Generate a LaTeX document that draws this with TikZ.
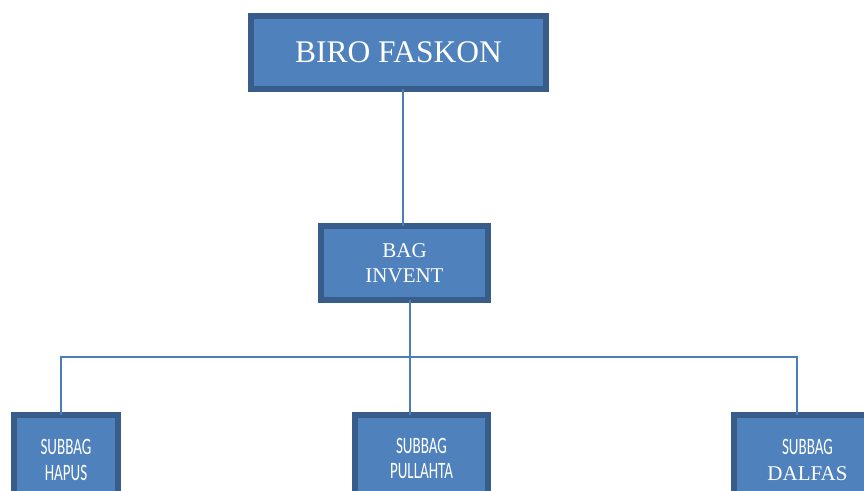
\documentclass[tikz,border=0pt]{standalone}
\usepackage{fontspec}
\setmainfont{Liberation Serif}
\newfontfamily\calib{Carlito}
\definecolor{boxfill}{HTML}{4F81BD}
\definecolor{boxedge}{HTML}{385D8A}
\definecolor{linkc}{HTML}{4A7EBB}
\newcommand{\cond}[1]{\scalebox{0.64}[1]{\calib #1}}
\begin{document}
\begin{tikzpicture}[x=1pt,y=-1pt,
  orgbox/.style={draw=boxedge,fill=boxfill,line width=6pt,text=white,
    align=center,inner sep=0pt,outer sep=0pt},
  subfont/.style={font=\fontsize{23.5}{26}\selectfont},
  link/.style={draw=linkc,line width=1.6pt}]
\useasboundingbox (0,0) rectangle (864,490);
\clip (0,0) rectangle (864,490);
\coordinate (cT) at (403,160);
\coordinate (cM) at (410,357);
\coordinate (cL) at (61,357);
\coordinate (cR) at (797,357);
% boxes
\node[orgbox,minimum width=295pt,minimum height=73pt,
  font=\fontsize{31.5}{36}\selectfont] (biro) at (398.5,52.5) {BIRO FASKON};
\node[orgbox,minimum width=167pt,minimum height=74pt,
  font=\fontsize{21}{25}\selectfont] (bag) at (404.5,263) {BAG\\INVENT};
\node[orgbox,minimum width=104pt,minimum height=90pt,subfont] (hapus) at (66,460) {\cond{SUBBAG}\\\cond{HAPUS}};
\node[orgbox,minimum width=133pt,minimum height=90pt,subfont] (pull) at (421.5,460) {\raisebox{2pt}{\cond{SUBBAG}}\\\raisebox{3pt}{\cond{PULLAHTA}}};
\node[orgbox,minimum width=147pt,minimum height=90pt,subfont] (dalfas) at (807.5,460) {\cond{SUBBAG}\\{\fontsize{21}{26}\selectfont DALFAS}};
% connectors
\draw[link] (cT |- biro.south) -- (cT |- bag.north);
\draw[link] (cM |- bag.south) -- (cM |- pull.north);
\draw[link] (cL |- hapus.north) -- (cL) -- (cR) -- (cR |- dalfas.north);
\end{tikzpicture}
\end{document}
